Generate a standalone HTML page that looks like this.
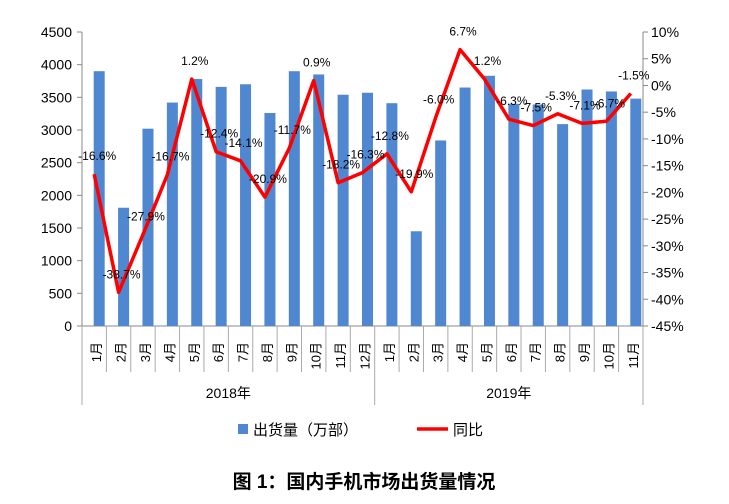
<!DOCTYPE html>
<html><head><meta charset="utf-8"><style>
body{margin:0;background:#fff;}
svg text{font-family:"Liberation Sans","Noto Sans CJK SC",sans-serif;}
</style></head><body>
<svg id="c" width="729" height="499"></svg>
<script>
const months=["1月","2月","3月","4月","5月","6月","7月","8月","9月","10月","11月","12月","1月","2月","3月","4月","5月","6月","7月","8月","9月","10月","11月"];
const years=["2018年","2019年"];
const shipments=[3900,1810,3020,3420,3780,3660,3700,3260,3900,3850,3540,3570,3410,1450,2840,3650,3830,3400,3390,3090,3620,3590,3480];
const growth=[-16.6,-38.7,-27.9,-16.7,1.2,-12.4,-14.1,-20.9,-11.7,0.9,-18.2,-16.3,-12.8,-19.9,-6.0,6.7,1.2,-6.3,-7.5,-5.3,-7.1,-6.7,-1.5];
const leftTicks=[0,500,1000,1500,2000,2500,3000,3500,4000,4500];
const rightTicks=[10,5,0,-5,-10,-15,-20,-25,-30,-35,-40,-45];
const svg=document.getElementById('c');const NS='http://www.w3.org/2000/svg';
function mk(t,a,p){const e=document.createElementNS(NS,t);for(const k in a)e.setAttribute(k,a[k]);(p||svg).appendChild(e);return e;}
const X0=82,X1=643,Y0=326,Y1=32;const n=months.length;const bw=(X1-X0)/n;
const yL=v=>Y0-(v/4500)*(Y0-Y1);
const yR=v=>Y1+(10-v)/55*(Y0-Y1);
const xc=i=>X0+bw*(i+0.5);
let e;
e=mk('line',{x1:X0,y1:Y1,x2:X0,y2:Y0,stroke:'#888'});
e=mk('line',{x1:X1,y1:Y1,x2:X1,y2:Y0,stroke:'#888'});
e=mk('line',{x1:X0,y1:Y0,x2:X1,y2:Y0,stroke:'#888'});
leftTicks.forEach(v=>{mk('line',{x1:X0-5,y1:yL(v),x2:X0,y2:yL(v),stroke:'#888'});
e=mk('text',{x:X0-10,y:yL(v)+5,'text-anchor':'end','font-size':14,fill:'#000'});e.textContent=v;
});
rightTicks.forEach(v=>{mk('line',{x1:X1,y1:yR(v),x2:X1+5,y2:yR(v),stroke:'#888'});
e=mk('text',{x:X1+8,y:yR(v)+5,'font-size':14,fill:'#000'});e.textContent=v+'%';
});
shipments.forEach((v,i)=>{e=mk('rect',{x:xc(i)-0.5,y:yL(v),width:11,height:Y0-yL(v),fill:'#4f87d0'});
});
for(let i=0;i<=n;i++){const x=X0+bw*i;const big=(i==0||i==12||i==n);
mk('line',{x1:x,y1:Y0,x2:x,y2:big?405:372,stroke:'#aaa'});}
months.forEach((m,i)=>{e=mk('text',{transform:`translate(${xc(i)+7},342) rotate(-90)`,'text-anchor':'end','font-size':13,fill:'#000'});e.textContent=m;
});
years.forEach((yv,k)=>{const a=k==0?0:12,b=k==0?12:n;e=mk('text',{x:(X0+bw*a+X0+bw*b)/2,y:398,'text-anchor':'middle','font-size':14,fill:'#000'});e.textContent=yv;
});
e=mk('polyline',{points:growth.map((v,i)=>xc(i)+','+yR(v)).join(' '),fill:'none',stroke:'#ff0000','stroke-width':3.5,'stroke-linejoin':'round'});

growth.forEach((v,i)=>{e=mk('text',{x:xc(i)+3,y:yR(v)-14,'text-anchor':'middle','font-size':12,fill:'#000'});e.textContent=v.toFixed(1)+'%';
});
e=mk('g',{});
mk('rect',{x:238,y:424,width:10,height:10,fill:'#4f87d0'},e);
let t=mk('text',{x:253,y:435,'font-size':15},e);t.textContent='出货量（万部）';
mk('line',{x1:417,y1:429,x2:448,y2:429,stroke:'#ff0000','stroke-width':3.5},e);
t=mk('text',{x:453,y:435,'font-size':15},e);t.textContent='同比';
e=mk('text',{x:364,y:488,'text-anchor':'middle','font-size':19,'font-weight':'bold'});e.textContent='图 1：国内手机市场出货量情况';

</script>
</body></html>
